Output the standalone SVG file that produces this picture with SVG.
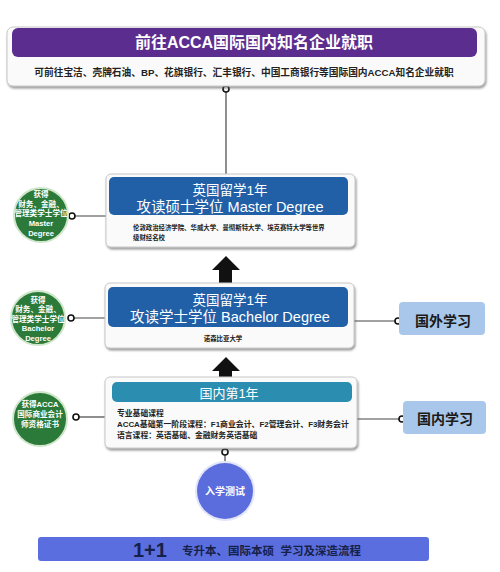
<svg xmlns="http://www.w3.org/2000/svg" width="500" height="572" viewBox="0 0 500 572">
<defs>
<filter id="sh" x="-5%" y="-10%" width="110%" height="130%">
<feDropShadow dx="1" dy="2" stdDeviation="1.2" flood-color="#555" flood-opacity="0.6"/>
</filter>
</defs>
<style>
text{font-family:"Liberation Sans","Noto Sans CJK SC",sans-serif;}
.card{fill:#fafafa;stroke:#c8c8c8;stroke-width:1;filter:url(#sh);}
.wt{fill:#fff;text-anchor:middle;}
.sm{fill:#222;font-weight:bold;}
.gc{fill:#2b7a3a;stroke:#cfe6cb;stroke-width:2;}
.gt{fill:#fff;font-weight:bold;font-size:7.6px;text-anchor:middle;}
.rb{fill:#a8c7ea;}
.rt{fill:#1a1a1a;font-weight:bold;font-size:14px;text-anchor:middle;}
.ln{stroke:#444;stroke-width:1.2;fill:none;}
.dot{fill:#fff;stroke:#111;stroke-width:1.6;}
</style>
<rect width="500" height="572" fill="#fff"/>

<g id="connectors">
<line class="ln" x1="226" y1="89" x2="226" y2="175"/>
<line class="ln" x1="72" y1="216" x2="106" y2="216"/>
<line class="ln" x1="71" y1="318" x2="105" y2="318"/>
<line class="ln" x1="76" y1="417" x2="105" y2="417"/>
<line class="ln" x1="354" y1="321" x2="398" y2="321"/>
<line class="ln" x1="357" y1="419" x2="402" y2="419"/>
<line class="ln" x1="225" y1="451" x2="225" y2="463"/>
<polygon points="212,270 226,256 240,270 232,270 232,284 219,284 219,270" fill="#111"/>
<polygon points="212,371 226,357 240,371 232,371 232,378 219,378 219,371" fill="#111"/>
<circle class="dot" cx="226" cy="89" r="3"/>
<circle class="dot" cx="72" cy="216" r="3"/>
<circle class="dot" cx="71" cy="318" r="3"/>
<circle class="dot" cx="76" cy="417" r="3"/>
<circle class="dot" cx="398" cy="321" r="3"/>
<circle class="dot" cx="402" cy="419" r="3"/>
<circle class="dot" cx="225" cy="452" r="3"/>
</g>

<g id="top">
<rect class="card" x="7" y="27" width="478" height="59" rx="6"/>
<rect x="12" y="28" width="465" height="29" rx="6" fill="#5b2d8f"/>
<text class="wt" x="254" y="48" font-size="16" font-weight="bold">前往ACCA国际国内知名企业就职</text>
<text class="sm" x="244" y="76" font-size="9.7" text-anchor="middle">可前往宝洁、壳牌石油、BP、花旗银行、汇丰银行、中国工商银行等国际国内ACCA知名企业就职</text>
</g>

<g id="master">
<rect class="card" x="106" y="174" width="249" height="73" rx="5"/>
<rect x="109" y="177" width="239" height="38" rx="5" fill="#2160a7"/>
<text class="wt" x="230" y="195" font-size="13.5">英国留学1年</text>
<text class="wt" x="230" y="211.5" font-size="14.5">攻读硕士学位 Master Degree</text>
<text class="sm" x="133" y="229.5" font-size="6.4">伦敦政治经济学院、华威大学、曼彻斯特大学、埃克赛特大学等世界</text>
<text class="sm" x="133" y="240" font-size="6.4">级财经名校</text>
</g>

<g id="bachelor">
<rect class="card" x="105" y="283" width="249" height="65" rx="5"/>
<rect x="108" y="287" width="240" height="40" rx="5" fill="#2160a7"/>
<text class="wt" x="230" y="305" font-size="13.5">英国留学1年</text>
<text class="wt" x="230" y="321.5" font-size="14.5">攻读学士学位 Bachelor Degree</text>
<text class="sm" x="223" y="340.5" font-size="6.4" text-anchor="middle">诺森比亚大学</text>
</g>

<g id="domestic">
<rect class="card" x="105" y="377" width="252" height="71" rx="5"/>
<rect x="112" y="382" width="240" height="20" rx="5" fill="#2b8db0"/>
<text class="wt" x="229" y="397.5" font-size="13">国内第1年</text>
<text class="sm" x="117" y="415.5" font-size="7.8">专业基础课程</text>
<text class="sm" x="117" y="426.5" font-size="7.9">ACCA基础第一阶段课程：F1商业会计、F2管理会计、F3财务会计</text>
<text class="sm" x="117" y="437.5" font-size="7.8">语言课程：英语基础、金融财务英语基础</text>
</g>

<g id="circle-master">
<circle class="gc" cx="41" cy="215" r="27"/>
<text class="gt" x="41" y="197">获得</text>
<text class="gt" x="41" y="206.5">财务、金融、</text>
<text class="gt" x="41" y="216">管理类学士学位</text>
<text class="gt" x="41" y="226">Master</text>
<text class="gt" x="41" y="235.5">Degree</text>
</g>

<g id="circle-bachelor">
<circle class="gc" cx="38" cy="318" r="27"/>
<text class="gt" x="38" y="302.5">获得</text>
<text class="gt" x="38" y="312">财务、金融、</text>
<text class="gt" x="38" y="321.5">管理类学士学位</text>
<text class="gt" x="38" y="331">Bachelor</text>
<text class="gt" x="38" y="340.5">Degree</text>
</g>

<g id="circle-acca">
<circle class="gc" cx="40" cy="419" r="27"/>
<text class="gt" x="40" y="406.5" font-size="8">获得ACCA</text>
<text class="gt" x="40" y="416.5" font-size="8">国际商业会计</text>
<text class="gt" x="40" y="426.5" font-size="8">师资格证书</text>
</g>

<g id="abroad">
<rect class="rb" x="399" y="302" width="86" height="33" rx="4"/>
<text class="rt" x="443" y="326">国外学习</text>
</g>

<g id="home">
<rect class="rb" x="403" y="401" width="83" height="33" rx="4"/>
<text class="rt" x="445" y="424">国内学习</text>
</g>

<g id="entrance">
<circle cx="225" cy="491" r="30" fill="#e3e6fb"/>
<circle cx="225" cy="491" r="28" fill="#5b6ddc"/>
<text class="wt" x="225" y="495" font-size="10" font-weight="bold">入学测试</text>
</g>

<g id="banner">
<rect x="38" y="537" width="391" height="24" rx="3" fill="#5b6ee0"/>
<text x="133" y="557" font-size="20" font-weight="bold" fill="#16214a">1+1</text>
<text x="182" y="555" font-size="11.5" font-weight="bold" fill="#16214a" xml:space="preserve">专升本、国际本硕  学习及深造流程</text>
</g>
</svg>
